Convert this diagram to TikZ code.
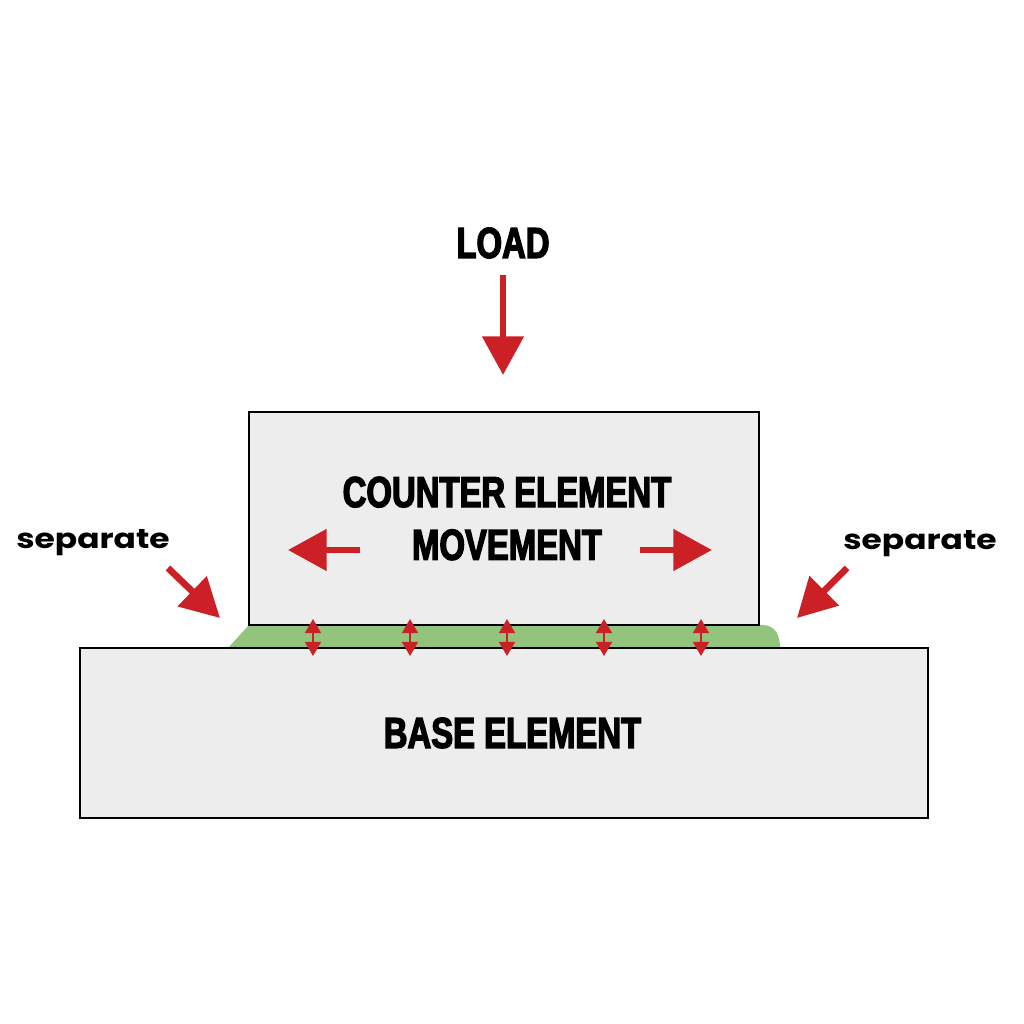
\documentclass[tikz,border=0pt]{standalone}
\usepackage{fontspec}
\usetikzlibrary{arrows.meta}
\newfontfamily\headfont{Liberation Sans}[FakeStretch=0.76, BoldFeatures={FakeBold=3}]
\newfontfamily\labelfont{Poppins}[FakeStretch=1.2]
\definecolor{arrowred}{RGB}{204,32,39}
\definecolor{layergreen}{RGB}{146,196,125}
\definecolor{elemgray}{RGB}{237,237,237}

\begin{document}
\begin{tikzpicture}[
    elem/.style={draw=black, line width=0.8pt, fill=elemgray, align=center,
        inner sep=0pt, font=\headfont\bfseries\fontsize{12.3}{15}\selectfont},
    title/.style={font=\headfont\bfseries\fontsize{12.3}{15}\selectfont},
    sep/.style={font=\labelfont\bfseries\fontsize{7.8}{9}\selectfont},
    force/.style={draw=arrowred, line width=1.9pt, -{Triangle[width=11.5pt, length=11pt]}},
    gap/.style={draw=arrowred, line width=0.6pt,
        {Triangle[width=4.5pt, length=4pt]}-{Triangle[width=4.5pt, length=4pt]}}
]
    \useasboundingbox (0,0) rectangle (10.24,10.24);

    % Lubricating layer between the elements
    \fill[layergreen] (2.28,3.76) -- (2.49,3.99) -- (7.62,3.99)
        .. controls (7.76,3.99) and (7.80,3.88) .. (7.80,3.76) -- cycle;

    % Elements
    \node[elem, minimum width=8.48cm, minimum height=1.70cm] (base) at (5.04,2.91) {\hspace{0.17cm}BASE ELEMENT};
    \node[elem, minimum width=5.10cm, minimum height=2.13cm] (counter) at (5.04,5.055)
        {\hspace{0.06cm}COUNTER ELEMENT\\\hspace{0.06cm}MOVEMENT};

    % Load
    \node[title] (load) at (5.03,7.81) {LOAD};
    \coordinate (loadtop) at (5.03,7.49);
    \coordinate (loadtip) at (5.03,6.49);
    \draw[force] (loadtop) -- (loadtip);

    % Movement arrows
    \coordinate (movel) at (3.60,4.74);
    \coordinate (movelt) at (2.88,4.74);
    \coordinate (mover) at (6.40,4.74);
    \coordinate (movert) at (7.12,4.74);
    \draw[force] (movel) -- (movelt);
    \draw[force] (mover) -- (movert);

    % Separate
    \node[sep] (sepleft) at (0.93,4.81) {separate};
    \node[sep] (sepright) at (9.20,4.80) {separate};
    \coordinate (sepl) at (1.68,4.56);
    \coordinate (seplt) at (2.20,4.06);
    \coordinate (sepr) at (8.47,4.56);
    \coordinate (seprt) at (7.97,4.06);
    \draw[force] (sepl) -- (seplt);
    \draw[force] (sepr) -- (seprt);

    % Gap arrows
    \foreach \x in {3.13,4.10,5.07,6.04,7.01} {
        \coordinate (gtop) at (\x,4.05);
        \coordinate (gbot) at (\x,3.68);
        \draw[gap] (gtop) -- (gbot);
    }
\end{tikzpicture}
\end{document}
